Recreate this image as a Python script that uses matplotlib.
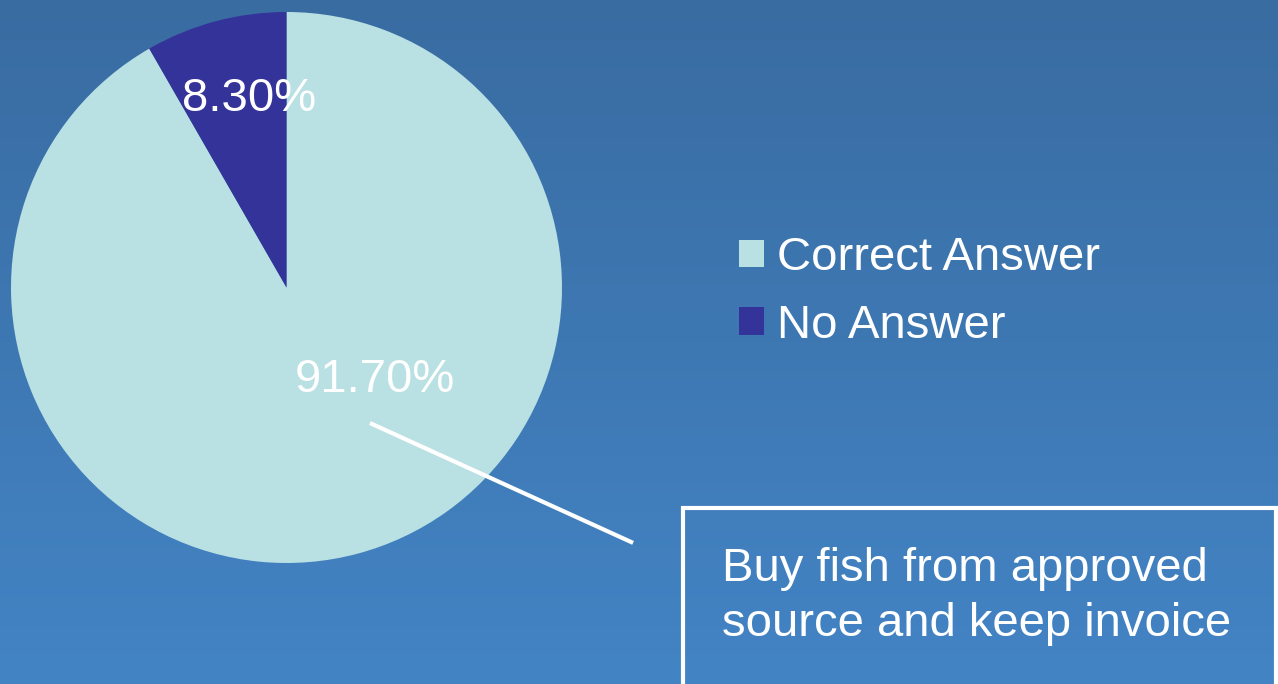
import numpy as np
import matplotlib.pyplot as plt
from matplotlib.patches import Rectangle
import matplotlib.colors as mcolors

plt.rcParams['font.family'] = ['Liberation Sans', 'DejaVu Sans']

labels = ["Correct Answer", "No Answer"]
shares = [91.70, 8.30]
colors = ["#b9e0e3", "#343399"]
callout = "Buy fish from approved\nsource and keep invoice"

W, H = 1278, 684
cx, cy, R = 286.5, 287.5, 275.5   # pie centre / radius in pixels (from top)

fig = plt.figure(figsize=(W / 100, H / 100), dpi=100)
ax = fig.add_axes([0, 0, 1, 1])
x0, x1 = -cx / R, (W - cx) / R
y0, y1 = -(H - cy) / R, cy / R

# background gradient
top = np.array(mcolors.to_rgb("#396ca1"))
bot = np.array(mcolors.to_rgb("#4384c5"))
t = np.linspace(0, 1, 256)[:, None, None]
grad = top * (1 - t) + bot * t
ax.imshow(grad, extent=[x0, x1, y0, y1], aspect='auto', zorder=0, interpolation='bilinear')

wedges, texts, autotexts = ax.pie(shares, colors=colors, startangle=90, counterclock=False,
                                  radius=1, autopct=lambda p: f"{p:.2f}%",
                                  textprops=dict(color='white', fontsize=34),
                                  wedgeprops=dict(linewidth=0))
for w in wedges:
    w.set_zorder(2)
autotexts[0].set_position((0.32, -0.335))
autotexts[1].set_position((-0.136, 0.685))
for a in autotexts:
    a.set_zorder(4)

ax.set_xlim(x0, x1)
ax.set_ylim(y0, y1)
ax.set_aspect('auto')
ax.axis('off')

# leader line to callout
ax.plot([0.303, 1.258], [-0.492, -0.927], color='white', lw=3, solid_capstyle='butt', zorder=3)

# callout box
bx = (683 - cx) / R
by = (cy - 508) / R
ax.add_patch(Rectangle((bx, y0 - 0.1), (1276 - 683) / R, by - y0 + 0.1, fill=False,
                       edgecolor='white', lw=3, zorder=3))
ax.text((722 - cx) / R, (cy - 547) / R, callout, color='white', fontsize=34,
        va='top', ha='left', linespacing=1.32, zorder=4)

leg = ax.legend(wedges, labels, loc='center left', bbox_to_anchor=(739 / W, (H - 292) / H),
                bbox_transform=fig.transFigure, frameon=False, fontsize=34,
                handlelength=0.52, handleheight=0.52, handletextpad=0.28,
                labelspacing=0.50, borderpad=0, borderaxespad=0)
for txt in leg.get_texts():
    txt.set_color('white')

fig.savefig("out.png", dpi=100)
